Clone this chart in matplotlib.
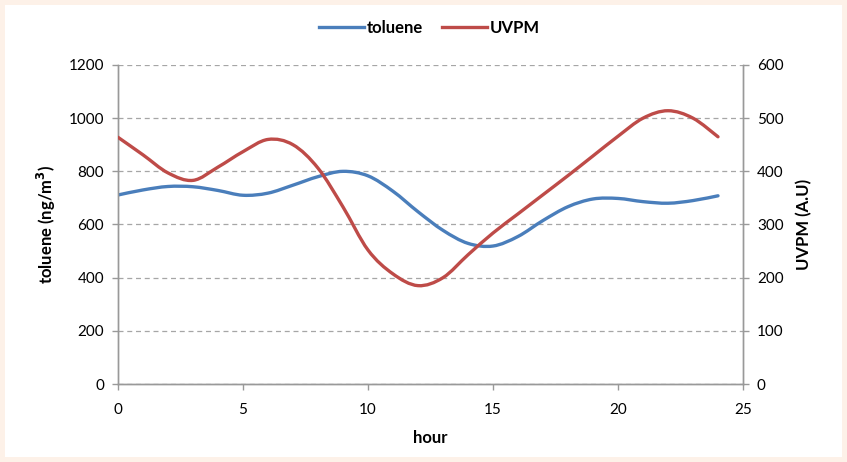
import matplotlib.pyplot as plt
from matplotlib.patches import Rectangle, PathPatch
from matplotlib.path import Path
from matplotlib.lines import Line2D

# hourly values
hours = list(range(25))
toluene = [711, 730, 743, 742, 728, 710, 718, 748, 780, 800, 783, 725, 648,
           578, 529, 519, 555, 615, 667, 696, 698, 686, 680, 690, 708]
uvpm = [464, 431, 397, 383, 408, 437, 460, 450, 406, 333, 252, 207, 185,
        200, 243, 284, 320, 356, 392, 429, 466, 500, 514, 500, 465]

BLUE = '#4a7ebb'
RED = '#be4b48'
GRID = '#a6a6a6'


def smooth_path(xs, ys):
    # Excel style "smoothed line": cubic bezier through every point
    pts = list(zip(xs, ys))
    verts = [pts[0]]
    codes = [Path.MOVETO]
    n = len(pts)
    for i in range(n - 1):
        p0 = pts[max(i - 1, 0)]
        p1 = pts[i]
        p2 = pts[i + 1]
        p3 = pts[min(i + 2, n - 1)]
        c1 = (p1[0] + (p2[0] - p0[0]) / 6, p1[1] + (p2[1] - p0[1]) / 6)
        c2 = (p2[0] - (p3[0] - p1[0]) / 6, p2[1] - (p3[1] - p1[1]) / 6)
        verts += [c1, c2, p2]
        codes += [Path.CURVE4] * 3
    return Path(verts, codes)


plt.rcParams['font.family'] = ['Lato', 'DejaVu Sans']

fig = plt.figure(figsize=(8.47, 4.62), dpi=100)
fig.patch.set_facecolor('#fdf1e8')
# white panel inside the beige border
fig.patches.append(Rectangle((5 / 847, 5 / 462), 837 / 847, 452 / 462,
                             transform=fig.transFigure, facecolor='white',
                             edgecolor='none', zorder=-5))

ax1 = fig.add_axes([118 / 847, 1 - 384 / 462, 625 / 847, 319 / 462])
ax1.set_facecolor('none')
ax2 = ax1.twinx()
ax2.set_facecolor('none')

ax1.add_patch(PathPatch(smooth_path(hours, toluene), fill=False, edgecolor=BLUE,
                        lw=2.4, capstyle='round', joinstyle='round', zorder=3))
ax2.add_patch(PathPatch(smooth_path(hours, uvpm), fill=False, edgecolor=RED,
                        lw=2.4, capstyle='round', joinstyle='round', zorder=3))

ax1.set_xlim(0, 25)
ax1.set_ylim(0, 1200)
ax2.set_ylim(0, 600)
ax1.set_xticks(range(0, 26, 5))
ax1.set_yticks(range(0, 1201, 200))
ax2.set_yticks(range(0, 601, 100))

ax1.yaxis.grid(True, color=GRID, linestyle=(0, (4, 3)), lw=0.9)
ax1.set_axisbelow(True)

for ax in (ax1, ax2):
    ax.spines['top'].set_visible(False)
    for s in ('left', 'right', 'bottom'):
        ax.spines[s].set_color('#999999')
        ax.spines[s].set_linewidth(1.0)
    ax.tick_params(colors='#999999', labelcolor='black', labelsize=11,
                   length=4, width=1.0, direction='out')
ax1.tick_params(axis='x', pad=10)
ax1.tick_params(axis='y', pad=6)
ax2.tick_params(axis='y', pad=6)

ax1.set_xlabel('hour', fontsize=12, fontweight='bold', labelpad=9)
ax1.set_ylabel('toluene (ng/m$^\\mathbf{3}$)', fontsize=12, fontweight='bold', labelpad=8)
ax2.set_ylabel('UVPM (A.U)', fontsize=12, fontweight='bold', labelpad=9)

handles = [Line2D([], [], color=BLUE, lw=2.4), Line2D([], [], color=RED, lw=2.4)]
fig.legend(handles, ['toluene', 'UVPM'], loc='center', bbox_to_anchor=(0.507, 1 - 28 / 462),
           ncol=2, frameon=False, prop={'weight': 'bold', 'size': 12},
           handlelength=2.7, handletextpad=0.2, columnspacing=1.1)

fig.savefig('out.png', dpi=100, facecolor=fig.get_facecolor())
